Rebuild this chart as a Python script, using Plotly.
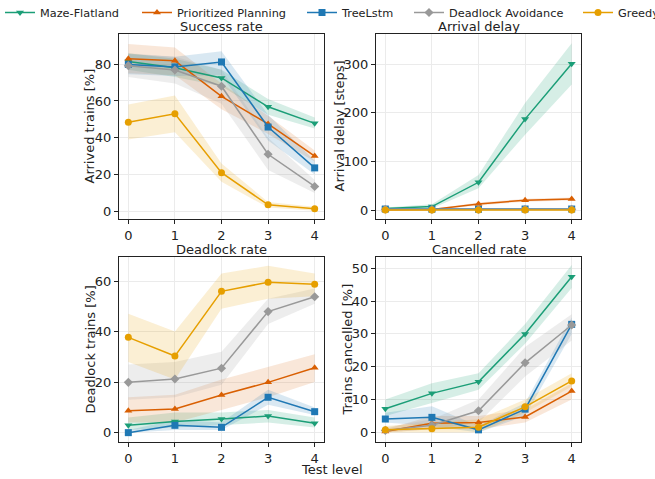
import plotly.graph_objects as go

# ---------------- data ----------------
levels = [0, 1, 2, 3, 4]
methods = ["Maze-Flatland", "Prioritized Planning", "TreeLstm", "Deadlock Avoidance", "Greedy"]

# Success rate: arrived trains [%]
success_mean = {
    "Maze-Flatland":        [81.5, 78.0, 72.5, 56.8, 47.8],
    "Prioritized Planning": [83.0, 81.8, 62.5, 47.5, 30.0],
    "TreeLstm":             [79.8, 78.5, 81.2, 45.8, 23.6],
    "Deadlock Avoidance":   [79.2, 76.8, 68.0, 31.0, 13.5],
    "Greedy":               [48.4, 53.0, 21.0, 3.5, 1.4],
}
success_lo = {
    "Maze-Flatland":        [77.0, 73.0, 68.0, 52.5, 45.0],
    "Prioritized Planning": [75.0, 74.0, 55.5, 42.0, 27.0],
    "TreeLstm":             [74.5, 73.5, 74.0, 38.5, 20.0],
    "Deadlock Avoidance":   [73.0, 69.5, 58.5, 22.5, 10.0],
    "Greedy":               [39.0, 43.0, 16.0, 2.0, 0.3],
}
success_hi = {
    "Maze-Flatland":        [86.0, 83.0, 77.0, 61.0, 51.0],
    "Prioritized Planning": [91.0, 89.0, 69.5, 52.0, 33.0],
    "TreeLstm":             [85.5, 84.0, 87.0, 52.5, 27.5],
    "Deadlock Avoidance":   [86.0, 84.0, 77.0, 40.0, 17.0],
    "Greedy":               [58.0, 63.0, 26.0, 5.0, 2.5],
}

# Arrival delay [steps]
delay_mean = {
    "Maze-Flatland":        [3.0, 7.0, 57.0, 187.0, 301.0],
    "Prioritized Planning": [0.5, 1.0, 12.5, 20.0, 22.5],
    "TreeLstm":             [2.0, 1.5, 1.5, 2.0, 2.0],
    "Deadlock Avoidance":   [1.5, 1.0, 1.0, 1.5, 1.5],
    "Greedy":               [0.0, 0.0, 0.0, 0.0, 0.0],
}
delay_lo = {
    "Maze-Flatland":        [1.5, 3.0, 45.0, 155.0, 258.0],
    "Prioritized Planning": [0.0, 0.0, 9.5, 17.0, 19.5],
    "TreeLstm":             [1.0, 0.5, 0.5, 1.0, 1.0],
    "Deadlock Avoidance":   [0.5, 0.3, 0.3, 0.5, 0.5],
    "Greedy":               [0.0, 0.0, 0.0, 0.0, 0.0],
}
delay_hi = {
    "Maze-Flatland":        [5.0, 12.0, 72.0, 220.0, 343.0],
    "Prioritized Planning": [1.0, 2.0, 15.5, 23.0, 25.5],
    "TreeLstm":             [3.0, 2.5, 2.5, 3.0, 3.0],
    "Deadlock Avoidance":   [2.5, 1.7, 1.7, 2.5, 2.5],
    "Greedy":               [0.5, 0.5, 0.5, 0.5, 0.5],
}

# Deadlock rate: deadlock trains [%]
deadlock_mean = {
    "Maze-Flatland":        [2.9, 4.4, 5.4, 6.6, 3.7],
    "Prioritized Planning": [8.7, 9.4, 14.9, 19.9, 25.7],
    "TreeLstm":             [0.0, 2.9, 2.1, 14.0, 8.3],
    "Deadlock Avoidance":   [19.9, 21.2, 25.5, 47.9, 53.8],
    "Greedy":               [37.7, 30.3, 55.9, 59.5, 58.7],
}
deadlock_lo = {
    "Maze-Flatland":        [1.0, 2.0, 3.0, 4.0, 2.0],
    "Prioritized Planning": [4.0, 4.0, 9.0, 14.0, 20.0],
    "TreeLstm":             [0.0, 1.0, 1.0, 11.0, 7.0],
    "Deadlock Avoidance":   [13.0, 14.0, 19.0, 43.0, 51.0],
    "Greedy":               [28.0, 21.0, 49.0, 53.0, 54.0],
}
deadlock_hi = {
    "Maze-Flatland":        [6.0, 8.0, 8.0, 9.0, 6.0],
    "Prioritized Planning": [14.0, 15.0, 21.0, 26.0, 31.0],
    "TreeLstm":             [1.0, 5.0, 4.0, 17.0, 10.0],
    "Deadlock Avoidance":   [27.0, 28.0, 32.0, 53.0, 57.0],
    "Greedy":               [47.0, 40.0, 63.0, 66.0, 63.0],
}

# Cancelled rate: trains cancelled [%]
cancel_mean = {
    "Maze-Flatland":        [7.2, 11.9, 15.4, 30.0, 47.4],
    "Prioritized Planning": [0.3, 2.8, 3.0, 4.7, 12.6],
    "TreeLstm":             [4.1, 4.6, 0.8, 7.1, 32.9],
    "Deadlock Avoidance":   [0.6, 2.2, 6.6, 21.2, 32.7],
    "Greedy":               [0.8, 1.1, 1.6, 7.8, 15.7],
}
cancel_lo = {
    "Maze-Flatland":        [5.0, 9.0, 13.0, 27.0, 44.0],
    "Prioritized Planning": [0.0, 1.0, 1.0, 3.0, 10.0],
    "TreeLstm":             [3.0, 2.0, 0.0, 5.0, 30.0],
    "Deadlock Avoidance":   [0.0, 1.0, 3.0, 17.0, 28.0],
    "Greedy":               [0.0, 0.0, 0.0, 6.0, 14.0],
}
cancel_hi = {
    "Maze-Flatland":        [10.0, 15.0, 18.0, 33.0, 51.0],
    "Prioritized Planning": [1.0, 5.0, 5.0, 7.0, 15.0],
    "TreeLstm":             [6.0, 8.0, 2.0, 9.0, 35.0],
    "Deadlock Avoidance":   [1.5, 4.0, 10.0, 26.0, 36.0],
    "Greedy":               [2.0, 3.0, 4.0, 10.0, 18.0],
}

panel_titles = ["Success rate", "Arrival delay", "Deadlock rate", "Cancelled rate"]
y_titles = ["Arrived trains [%]", "Arrival delay [steps]", "Deadlock trains [%]", "Trains cancelled [%]"]
x_title = "Test level"

# ---------------- styling ----------------
colors = {
    "Maze-Flatland": "#1b9e77",
    "Prioritized Planning": "#d95f02",
    "TreeLstm": "#1f78b4",
    "Deadlock Avoidance": "#999999",
    "Greedy": "#e69f00",
}
band_colors = {
    "Maze-Flatland": "rgba(27,158,119,0.18)",
    "Prioritized Planning": "rgba(217,95,2,0.15)",
    "TreeLstm": "rgba(31,120,180,0.17)",
    "Deadlock Avoidance": "rgba(153,153,153,0.18)",
    "Greedy": "rgba(230,159,0,0.17)",
}
symbols = {
    "Maze-Flatland": "triangle-down",
    "Prioritized Planning": "triangle-up",
    "TreeLstm": "square",
    "Deadlock Avoidance": "diamond",
    "Greedy": "circle",
}

W, H = 655, 479
FONT = "DejaVu Sans"

# axes pixel boxes (left, right, top, bottom)
boxes = [(119, 324, 34, 219), (376, 581, 34, 219), (119, 324, 257, 442), (376, 581, 257, 442)]
y_ranges = [[-4.2, 96.4], [-18.5, 362], [-3.7, 69.5], [-2.9, 53.4]]
y_ticks = [[0, 20, 40, 60, 80], [0, 100, 200, 300], [0, 20, 40, 60], [0, 10, 20, 30, 40, 50]]
ytitle_x = [89, 339, 90, 347]
title_y = [26, 26, 249, 249]

panels = [
    (success_mean, success_lo, success_hi),
    (delay_mean, delay_lo, delay_hi),
    (deadlock_mean, deadlock_lo, deadlock_hi),
    (cancel_mean, cancel_lo, cancel_hi),
]

fig = go.Figure()
legend_starts = [0, 137, 302, 409, 578]

for p, (mean, lo, hi) in enumerate(panels):
    xa = "x" if p == 0 else f"x{p+1}"
    ya = "y" if p == 0 else f"y{p+1}"
    # bands first
    for m in methods:
        fig.add_trace(go.Scatter(
            x=levels + levels[::-1], y=hi[m] + lo[m][::-1],
            fill="toself", fillcolor=band_colors[m], line=dict(width=0),
            mode="lines", hoverinfo="skip", showlegend=False,
            xaxis=xa, yaxis=ya,
        ))
    for i, m in enumerate(methods):
        fig.add_trace(go.Scatter(
            x=levels, y=mean[m], mode="lines+markers", name=m,
            line=dict(color=colors[m], width=1.5),
            marker=dict(symbol=symbols[m], size=7, color=colors[m]),
            showlegend=(p == 0),
            legend="legend" if i == 0 else f"legend{i+1}",
            xaxis=xa, yaxis=ya,
        ))

layout = dict(
    width=W, height=H, autosize=False,
    margin=dict(l=0, r=0, t=0, b=0, autoexpand=False),
    paper_bgcolor="white", plot_bgcolor="white",
    template="none",
    font=dict(family=FONT, size=13, color="#222"),
    showlegend=True,
    hovermode=False,
)

axis_common = dict(
    showline=True, mirror=True, linecolor="#222", linewidth=1,
    showgrid=True, gridcolor="#ebebeb", gridwidth=1,
    zeroline=False, ticks="outside", ticklen=4, tickcolor="#222",
    tickfont=dict(family=FONT, size=13, color="#222"),
    automargin=False,
)

annotations = []
for p, (l, r, t, b) in enumerate(boxes):
    xk = "xaxis" if p == 0 else f"xaxis{p+1}"
    yk = "yaxis" if p == 0 else f"yaxis{p+1}"
    xa = "x" if p == 0 else f"x{p+1}"
    ya = "y" if p == 0 else f"y{p+1}"
    layout[xk] = dict(axis_common, domain=[l / W, r / W], anchor=ya,
                      range=[-0.2, 4.2], tickvals=levels)
    layout[yk] = dict(axis_common, domain=[(H - b) / H, (H - t) / H], anchor=xa,
                      range=y_ranges[p], tickvals=y_ticks[p])
    annotations.append(dict(
        text=panel_titles[p], x=(l + r) / 2 / W, y=(H - title_y[p]) / H,
        xref="paper", yref="paper", xanchor="center", yanchor="middle",
        showarrow=False, font=dict(family=FONT, size=13, color="#222"),
    ))
    annotations.append(dict(
        text=y_titles[p], x=ytitle_x[p] / W, y=(H - (t + b) / 2) / H,
        xref="paper", yref="paper", xanchor="center", yanchor="middle",
        textangle=-90, showarrow=False, font=dict(family=FONT, size=13, color="#222"),
    ))

annotations.append(dict(
    text=x_title, x=332 / W, y=(H - 469) / H, xref="paper", yref="paper",
    xanchor="center", yanchor="middle", showarrow=False,
    font=dict(family=FONT, size=13, color="#222"),
))
layout["annotations"] = annotations

for i in range(len(methods)):
    key = "legend" if i == 0 else f"legend{i+1}"
    layout[key] = dict(
        x=legend_starts[i] / W, y=1.0 + 2 / H, xanchor="left", yanchor="top",
        orientation="h", bgcolor="rgba(0,0,0,0)", borderwidth=0,
        itemwidth=30, font=dict(family=FONT, size=11.3, color="#222"),
    )

fig.update_layout(**layout)
fig.write_html(
    "out.html",
    config={"displayModeBar": False, "responsive": False},
    post_script="document.body.style.margin='0px';document.body.style.overflow='hidden';",
)
